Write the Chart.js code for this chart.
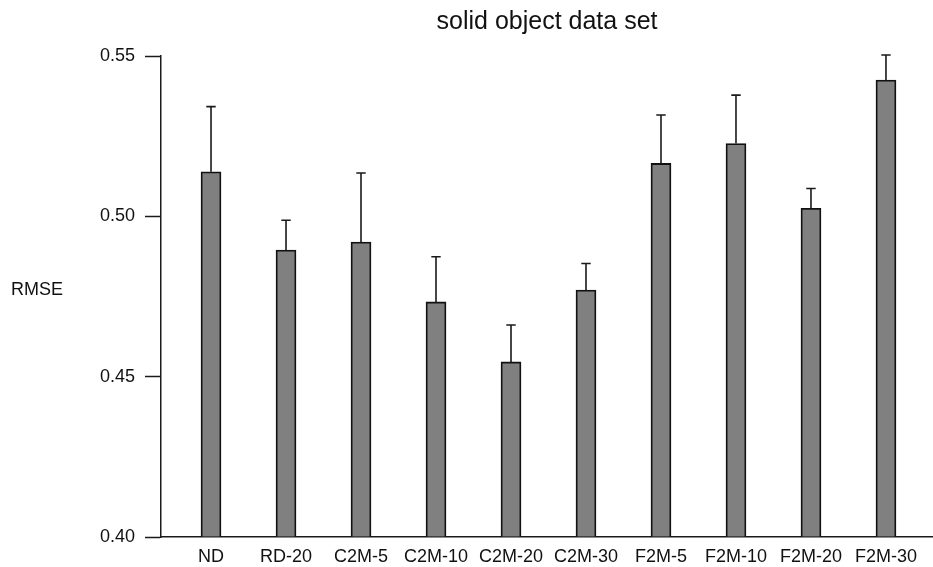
<!DOCTYPE html>
<html>
<head>
<meta charset="utf-8">
<script src="https://cdn.jsdelivr.net/npm/chart.js@4/dist/chart.umd.min.js"></script>
<style>
  body { margin: 0; background: #fff; }
  #wrap { width: 933px; height: 567px; }
</style>
</head>
<body>
<div id="wrap"><canvas id="rmseChart"></canvas></div>
<script>
// data
const categories = ['ND', 'RD-20', 'C2M-5', 'C2M-10', 'C2M-20', 'C2M-30', 'F2M-5', 'F2M-10', 'F2M-20', 'F2M-30'];
const rmseMeans  = [0.5139, 0.4895, 0.4920, 0.4733, 0.4546, 0.4770, 0.5165, 0.5227, 0.5025, 0.5425];
const rmseErrors = [0.0203, 0.0093, 0.0215, 0.0141, 0.0115, 0.0083, 0.0151, 0.0151, 0.0062, 0.0078];
const yTicks = [0.40, 0.45, 0.50, 0.55];

const FONT = '"Liberation Sans", Arial, sans-serif';
const INK = '#111';

Chart.defaults.font.family = FONT;
Chart.defaults.color = INK;

// error bars (upper half only) drawn on top of the bars
const errorBars = {
  id: 'errorBars',
  afterDatasetsDraw(chart) {
    const ctx = chart.ctx;
    const x = chart.scales.x;
    const y = chart.scales.y;
    ctx.save();
    ctx.strokeStyle = '#1a1a1a';
    ctx.lineWidth = 1.6;
    rmseMeans.forEach((m, i) => {
      const px = x.getPixelForValue(i + 1);
      const y0 = y.getPixelForValue(m);
      const y1 = y.getPixelForValue(m + rmseErrors[i]);
      ctx.beginPath();
      ctx.moveTo(px, y0);
      ctx.lineTo(px, y1);
      ctx.moveTo(px - 4.7, y1);
      ctx.lineTo(px + 4.7, y1);
      ctx.stroke();
    });
    ctx.restore();
  }
};

// horizontal y-axis label
const sideLabel = {
  id: 'sideLabel',
  afterDraw(chart) {
    const ctx = chart.ctx;
    const a = chart.chartArea;
    ctx.save();
    ctx.font = '18px ' + FONT;
    ctx.fillStyle = INK;
    ctx.textAlign = 'center';
    ctx.textBaseline = 'middle';
    ctx.fillText('RMSE', 37, (a.top + a.bottom) / 2 - 6);
    ctx.restore();
  }
};

const barData = {
  datasets: [{
    label: 'RMSE',
    data: rmseMeans.map((v, i) => ({ x: i + 1, y: v })),
    backgroundColor: '#808080',
    borderColor: '#111',
    borderWidth: 1.8,
    barThickness: 20,
    base: 0.4,
  }]
};

const barConfig = {
  type: 'bar',
  data: barData,
  options: {
    responsive: true,
    maintainAspectRatio: false,
    animation: false,
    layout: { padding: { left: 0, right: 0, top: 0, bottom: 0 } },
    plugins: {
      legend: { display: false },
      tooltip: { enabled: false },
      title: {
        display: true,
        text: 'solid object data set',
        fullSize: false,
        font: { size: 25, weight: 'normal' },
        color: INK,
        padding: { top: 7, bottom: 19 }
      }
    },
    scales: {
      x: {
        type: 'linear',
        offset: false,
        min: 0.333,
        max: 10.627,
        afterBuildTicks: (s) => { s.ticks = categories.map((c, i) => ({ value: i + 1 })); },
        afterFit: (s) => { s.height = 30; },
        ticks: {
          callback: (v) => categories[v - 1],
          autoSkip: false,
          maxRotation: 0,
          font: { size: 18 },
          color: INK,
          padding: 9
        },
        grid: { offset: false, drawOnChartArea: false, drawTicks: false },
        border: { display: true, color: '#1a1a1a', width: 1.5 }
      },
      y: {
        min: 0.4,
        max: 0.55,
        afterBuildTicks: (s) => { s.ticks = yTicks.map(v => ({ value: v })); },
        afterFit: (s) => { s.width = 161; },
        ticks: {
          callback: (v) => v.toFixed(2),
          font: { size: 18 },
          color: INK,
          padding: 10
        },
        grid: { drawOnChartArea: false, tickLength: 16, tickWidth: 1.5, tickColor: '#1a1a1a' },
        border: { display: true, color: '#1a1a1a', width: 1.5 }
      }
    }
  },
  plugins: [errorBars, sideLabel]
};

const rmseChart = new Chart(
  document.getElementById('rmseChart'),
  barConfig
);
</script>
</body>
</html>
